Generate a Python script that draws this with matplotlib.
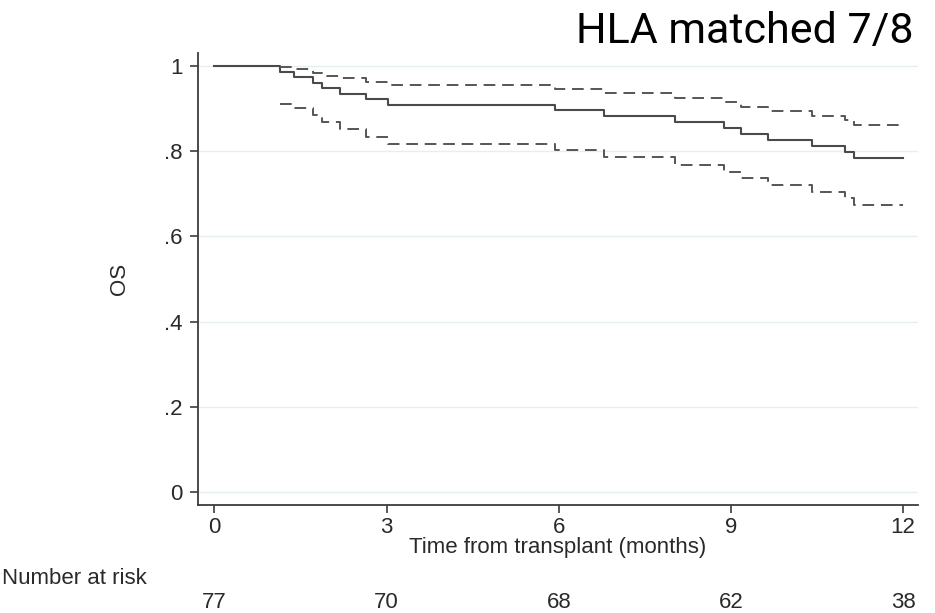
import matplotlib
matplotlib.use("Agg")
import matplotlib.pyplot as plt

# Kaplan-Meier estimate (OS) with 95% CI, HLA 7/8 matched group
km_times = [0, 1.15, 1.38, 1.72, 1.87, 2.19, 2.65, 3.03, 5.93, 6.79,
            8.03, 8.88, 9.18, 9.64, 10.41, 10.98, 11.15]
km_surv = [1.0, 0.987, 0.974, 0.961, 0.948, 0.935, 0.922, 0.909, 0.896, 0.882,
           0.868, 0.855, 0.841, 0.827, 0.813, 0.799, 0.785]
ci_upper = [0.998, 0.992, 0.983, 0.977, 0.972, 0.963, 0.955, 0.945, 0.936,
            0.926, 0.916, 0.904, 0.894, 0.883, 0.873, 0.862]
ci_lower = [0.912, 0.901, 0.885, 0.869, 0.852, 0.833, 0.817, 0.803, 0.786,
            0.768, 0.752, 0.736, 0.721, 0.705, 0.689, 0.674]
t_end = 12.0

xticks = [0, 3, 6, 9, 12]
yticks = [0, 0.2, 0.4, 0.6, 0.8, 1.0]
ytick_labels = ["0", ".2", ".4", ".6", ".8", "1"]
at_risk = [77, 70, 68, 62, 38]

fig = plt.figure(figsize=(9.35, 6.13), dpi=100)
ax = fig.add_axes([0.2118, 0.1762, 0.9813 - 0.2118, 0.9135 - 0.1762])

line_col = "#4a4a4a"
axis_col = "#3c3c3c"
tick_font = {"family": "Liberation Sans", "size": 16, "color": "#2a2a2a"}

for y in yticks:
    ax.axhline(y, color="#e6eef0", lw=1.0, zorder=0)

ax.step(km_times + [t_end], km_surv + [km_surv[-1]], where="post",
        color=line_col, lw=1.5)
ci_times = km_times[1:] + [t_end]
ax.step(ci_times, ci_upper + [ci_upper[-1]], where="post",
        color="#555555", lw=1.4, linestyle=(0, (6, 3.5)))
ax.step(ci_times, ci_lower + [ci_lower[-1]], where="post",
        color="#555555", lw=1.4, linestyle=(0, (6, 3.5)))

ax.set_xlim(-0.284, 12.25)
ax.set_ylim(-0.0305, 1.0305)
for side in ["top", "right"]:
    ax.spines[side].set_visible(False)
for side in ["left", "bottom"]:
    ax.spines[side].set_color(axis_col)
    ax.spines[side].set_linewidth(1.3)

ax.set_xticks(xticks)
ax.set_xticklabels([str(t) for t in xticks], fontdict=tick_font)
ax.set_yticks(yticks)
ax.set_yticklabels(ytick_labels, fontdict=tick_font)
ax.tick_params(axis="x", length=6, width=1.2, color=axis_col, pad=3)
ax.tick_params(axis="y", length=6, width=1.2, color=axis_col, pad=5)

ax.set_xlabel("Time from transplant (months)", fontdict=tick_font, labelpad=-1)
ax.set_ylabel("OS", fontdict=tick_font, labelpad=25)

# number-at-risk table under the x axis
fig.text(2 / 935, 1 - 579 / 613, "Number at risk", ha="left", va="center",
         **tick_font)
for t, n in zip(xticks, at_risk):
    xd = ax.transData.transform((t, 0))[0]
    fig.text(xd / 935, 1 - 602 / 613, str(n), ha="center", va="center",
             **tick_font)

fig.text(913 / 935, 1 - 31 / 613, "HLA matched 7/8", ha="right", va="center",
         family="Roboto", fontsize=31, color="black")

fig.savefig("out.png", dpi=100)
